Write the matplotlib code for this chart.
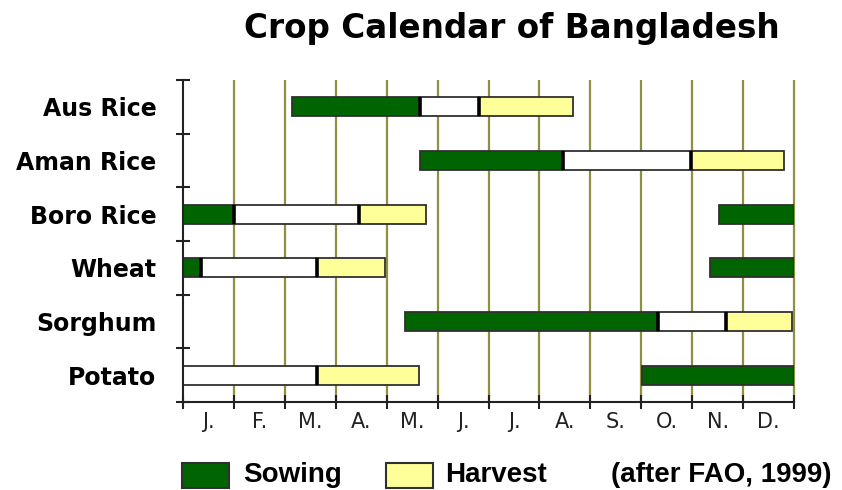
import matplotlib.pyplot as plt
from matplotlib.patches import Rectangle

# crop rows, top to bottom
crops = ["Aus Rice", "Aman Rice", "Boro Rice", "Wheat", "Sorghum", "Potato"]
months = ["J.", "F.", "M.", "A.", "M.", "J.", "J.", "A.", "S.", "O.", "N.", "D."]

# stages as (start, end, stage) in months from 1 January
aus_rice = [(2.15, 4.65, "sow"), (4.65, 5.82, "grow"), (5.82, 7.65, "harvest")]
aman_rice = [(4.66, 7.46, "sow"), (7.46, 9.98, "grow"), (9.98, 11.80, "harvest")]
boro_rice = [(0.0, 1.0, "sow"), (1.0, 3.46, "grow"), (3.46, 4.78, "harvest"),
             (10.52, 12.0, "sow")]
wheat = [(0.0, 0.35, "sow"), (0.35, 2.64, "grow"), (2.64, 3.96, "harvest"),
         (10.36, 12.0, "sow")]
sorghum = [(4.36, 9.33, "sow"), (9.33, 10.67, "grow"), (10.67, 11.97, "harvest")]
potato = [(0.0, 2.64, "grow"), (2.64, 4.63, "harvest"), (9.02, 12.0, "sow")]

calendar = [aus_rice, aman_rice, boro_rice, wheat, sorghum, potato]

stage_colors = {"sow": "#006400", "grow": "#ffffff", "harvest": "#ffff99"}
grid_color = "#8f8f40"
bar_h = 0.36

fig = plt.figure(figsize=(8.42, 4.9), dpi=100)
ax = fig.add_axes([183 / 842, 1 - 402 / 490, 611 / 842, 322 / 490])

# month boundaries
ax.vlines(range(1, 13), 0, 6, color=grid_color, linewidth=1.6, zorder=0, clip_on=False)

for row, segments in enumerate(calendar):
    for i, (start, end, stage) in enumerate(segments):
        ax.barh(row + 0.5, end - start, left=start, height=bar_h,
                color=stage_colors[stage], edgecolor="#303030", linewidth=1.3, zorder=2)
        # darker divider where one stage runs straight into the next
        if i + 1 < len(segments) and abs(segments[i + 1][0] - end) < 1e-9:
            ax.vlines(end, row + 0.5 - bar_h / 2, row + 0.5 + bar_h / 2,
                      color="black", linewidth=2.6, zorder=3)

ax.set_xlim(0, 12)
ax.set_ylim(6, 0)

for side in ["top", "right"]:
    ax.spines[side].set_visible(False)
for side in ["left", "bottom"]:
    ax.spines[side].set_linewidth(1.5)
    ax.spines[side].set_color("#222222")

ax.set_xticks(range(13))
ax.set_xticklabels([])
ax.set_xticks([m + 0.5 for m in range(12)], minor=True)
ax.set_xticklabels(months, minor=True, fontsize=15, family="DejaVu Sans", color="#222222")

ax.set_yticks(range(7))
ax.set_yticklabels([])
ax.set_yticks([r + 0.5 for r in range(6)], minor=True)
ax.set_yticklabels(crops, minor=True, fontsize=17, fontweight="bold", family="DejaVu Sans")

ax.tick_params(which="major", direction="inout", length=10, width=1.5, color="#222222")
ax.tick_params(axis="x", which="minor", length=0, pad=7)
ax.tick_params(axis="y", which="minor", length=0, pad=19)

fig.text(0.608, 1 - 38 / 490, "Crop Calendar of Bangladesh", ha="center", va="baseline",
         fontsize=23.5, fontweight="bold", family="DejaVu Sans")

# legend row along the bottom
legend_font = dict(fontsize=20, fontweight="bold", family="Liberation Sans", va="baseline")
for x0, stage, label, tx in [(182, "sow", "Sowing", 243), (386, "harvest", "Harvest", 445)]:
    fig.add_artist(Rectangle((x0 / 842, 1 - 488 / 490), 47 / 842, 25 / 490,
                             transform=fig.transFigure, facecolor=stage_colors[stage],
                             edgecolor="#303030", linewidth=1.5))
    fig.text(tx / 842, 1 - 482 / 490, label, **legend_font)
fig.text(611 / 842, 1 - 482 / 490, "(after FAO, 1999)", **legend_font)

fig.savefig("out.png", dpi=100)
